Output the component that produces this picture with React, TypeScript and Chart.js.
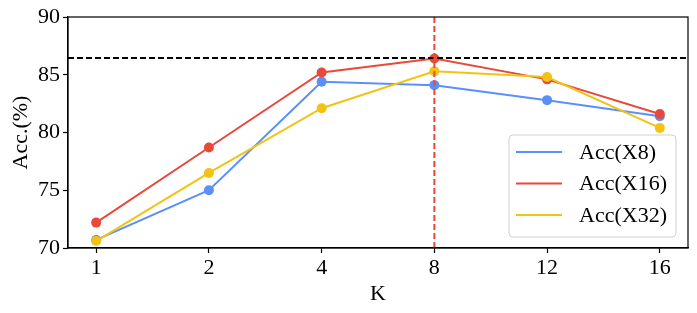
import React, { useEffect, useRef } from "react";
import { Chart, registerables } from "chart.js";

Chart.register(...registerables);

const kLabels = ["1", "2", "4", "8", "12", "16"];
const accX8 = [70.7, 75.0, 84.4, 84.1, 82.8, 81.4];
const accX16 = [72.2, 78.7, 85.2, 86.4, 84.6, 81.6];
const accX32 = [70.6, 76.5, 82.1, 85.3, 84.8, 80.4];
const seriesNames = ["Acc(X8)", "Acc(X16)", "Acc(X32)"];
const seriesColors = ["#5b8ff9", "#e8493a", "#f2c314"];
const bestAcc = 86.45;
const bestKIndex = 3;
const yMin = 70;
const yMax = 90;
const yStep = 5;

const FONT = "'Liberation Serif', 'Times New Roman', serif";

const overlayPlugin = {
  id: "overlay",
  afterDatasetsDraw(chart: any) {
    const { ctx, chartArea, scales } = chart;
    ctx.save();
    ctx.lineWidth = 2;
    ctx.setLineDash([6, 3]);
    const yb = scales.y.getPixelForValue(bestAcc);
    ctx.strokeStyle = "#000000";
    ctx.beginPath();
    ctx.moveTo(chartArea.left, yb);
    ctx.lineTo(chartArea.right, yb);
    ctx.stroke();
    const xb = scales.x.getPixelForValue(bestKIndex);
    ctx.strokeStyle = seriesColors[1];
    ctx.beginPath();
    ctx.moveTo(xb, chartArea.top);
    ctx.lineTo(xb, chartArea.bottom);
    ctx.stroke();
    ctx.restore();
  },
  afterDraw(chart: any) {
    const { ctx, chartArea } = chart;
    ctx.save();
    ctx.strokeStyle = "#000";
    ctx.lineWidth = 1.2;
    ctx.strokeRect(chartArea.left, chartArea.top, chartArea.right - chartArea.left, chartArea.bottom - chartArea.top);
    const w = 167;
    const h = 102;
    const bx = chartArea.right - 12 - w;
    const by = chartArea.bottom - 11 - h;
    const r = 4;
    ctx.beginPath();
    ctx.moveTo(bx + r, by);
    ctx.lineTo(bx + w - r, by);
    ctx.arcTo(bx + w, by, bx + w, by + r, r);
    ctx.lineTo(bx + w, by + h - r);
    ctx.arcTo(bx + w, by + h, bx + w - r, by + h, r);
    ctx.lineTo(bx + r, by + h);
    ctx.arcTo(bx, by + h, bx, by + h - r, r);
    ctx.lineTo(bx, by + r);
    ctx.arcTo(bx, by, bx + r, by, r);
    ctx.closePath();
    ctx.fillStyle = "rgba(255,255,255,0.8)";
    ctx.fill();
    ctx.strokeStyle = "#d0d0d0";
    ctx.lineWidth = 1;
    ctx.stroke();
    const ds = chart.data.datasets;
    ctx.font = `22px ${FONT}`;
    ctx.textBaseline = "middle";
    ctx.textAlign = "left";
    for (let i = 0; i < ds.length; i++) {
      const ry = by + 17 + i * 31.5;
      ctx.strokeStyle = ds[i].borderColor;
      ctx.lineWidth = 2;
      ctx.beginPath();
      ctx.moveTo(bx + 7, ry);
      ctx.lineTo(bx + 53, ry);
      ctx.stroke();
      ctx.fillStyle = "#000";
      ctx.fillText(ds[i].label, bx + 70, ry + 1);
    }
    ctx.restore();
  },
};

export default function App() {
  const ref = useRef<HTMLCanvasElement>(null);
  useEffect(() => {
    document.body.style.margin = "0";
    const series = [accX8, accX16, accX32];
    const orders = [2, 1, 0];
    const chart = new Chart(ref.current as HTMLCanvasElement, {
      type: "line",
      data: {
        datasets: series.map((vals, i) => ({
          label: seriesNames[i],
          data: vals.map((v, j) => ({ x: j, y: v })),
          borderColor: seriesColors[i],
          backgroundColor: seriesColors[i],
          pointBackgroundColor: seriesColors[i],
          pointBorderWidth: 0,
          pointRadius: 5,
          borderWidth: 2,
          tension: 0,
          order: orders[i],
        })),
      },
      options: {
        animation: false,
        responsive: false,
        layout: { padding: { top: 17, right: 9, left: 0, bottom: 0 } },
        plugins: { legend: { display: false }, tooltip: { enabled: false } },
        scales: {
          x: {
            type: "linear",
            min: -0.25,
            max: 5.25,
            afterBuildTicks: (scale: any) => {
              scale.ticks = kLabels.map((_, i) => ({ value: i }));
            },
            afterFit: (scale: any) => {
              scale.height = 65;
            },
            ticks: {
              callback: (v: any) => kLabels[v as number],
              color: "#000",
              font: { family: FONT, size: 22 },
              padding: 2,
              maxRotation: 0,
            },
            grid: {
              drawOnChartArea: false,
              drawTicks: true,
              tickLength: 5,
              tickColor: "#000",
              tickWidth: 1.2,
            },
            border: { display: true, color: "#000", width: 1.2 },
            title: {
              display: true,
              text: "K",
              color: "#000",
              font: { family: FONT, size: 22 },
              padding: { top: 0, bottom: 6 },
            },
          },
          y: {
            min: yMin,
            max: yMax,
            afterFit: (scale: any) => {
              scale.width = 68;
            },
            ticks: {
              stepSize: yStep,
              color: "#000",
              font: { family: FONT, size: 22 },
              padding: 3,
            },
            grid: {
              drawOnChartArea: false,
              drawTicks: true,
              tickLength: 5,
              tickColor: "#000",
              tickWidth: 1.2,
            },
            border: { display: true, color: "#000", width: 1.2 },
            title: {
              display: true,
              text: "Acc.(%)",
              color: "#000",
              font: { family: FONT, size: 22 },
              padding: { top: 8, bottom: 0 },
            },
          },
        },
      },
      plugins: [overlayPlugin],
    });
    return () => chart.destroy();
  }, []);
  return (
    <div style={{ width: 697, height: 313 }}>
      <canvas ref={ref} width={697} height={313} />
    </div>
  );
}
